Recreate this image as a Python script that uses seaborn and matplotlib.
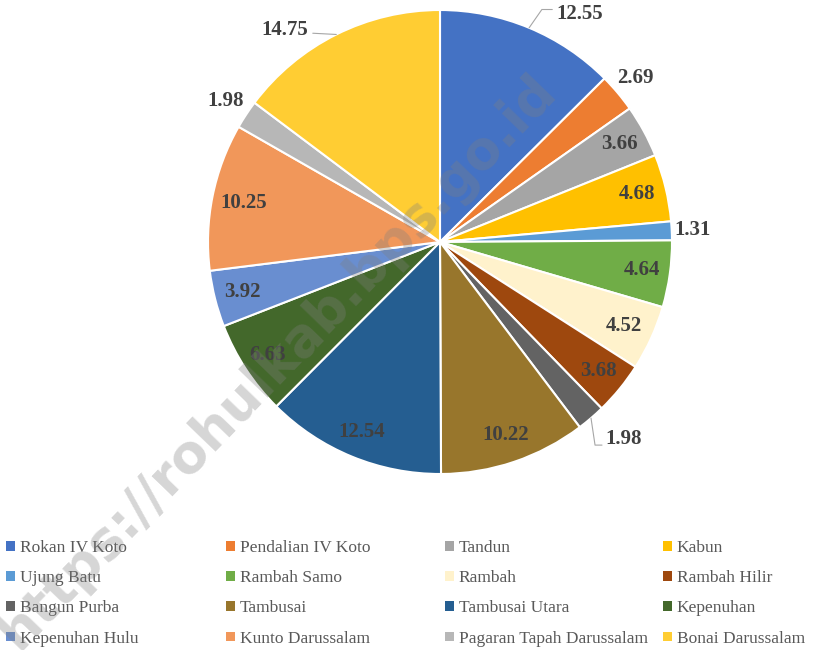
import numpy as np
import matplotlib
matplotlib.use('Agg')
import matplotlib.pyplot as plt
import matplotlib.patches as mpatches
import seaborn as sns

# Data (share per kecamatan, %)
districts = ['Rokan IV Koto', 'Pendalian IV Koto', 'Tandun', 'Kabun',
             'Ujung Batu', 'Rambah Samo', 'Rambah', 'Rambah Hilir',
             'Bangun Purba', 'Tambusai', 'Tambusai Utara', 'Kepenuhan',
             'Kepenuhan Hulu', 'Kunto Darussalam', 'Pagaran Tapah Darussalam',
             'Bonai Darussalam']
shares = [12.55, 2.69, 3.66, 4.68, 1.31, 4.64, 4.52, 3.68,
          1.98, 10.22, 12.54, 6.63, 3.92, 10.25, 1.98, 14.75]
colors = ['#4472C4', '#ED7D31', '#A5A5A5', '#FFC000', '#5B9BD5', '#70AD47',
          '#FFF2CC', '#9E480E', '#636363', '#98762C', '#255E91', '#43682B',
          '#698ED0', '#F1975A', '#B7B7B7', '#FFCD33']

sns.set_style('white')
plt.rcParams['font.family'] = ['Liberation Serif', 'DejaVu Serif']

fig = plt.figure(figsize=(8.16, 6.5), dpi=100)
ax = fig.add_axes([208 / 816, 176 / 650, 464 / 816, 464 / 650])
wedges, _ = ax.pie(shares, colors=colors, startangle=90, counterclock=False,
                   radius=1, wedgeprops=dict(edgecolor='white', linewidth=1.5))
ax.set_xlim(-1, 1)
ax.set_ylim(-1, 1)
ax.set_aspect('equal')
ax.axis('off')

# label placement: radius factor and angle shift for each slice
label_r = [1.153, 1.10, 0.88, 0.875, 1.09, 0.88, 0.87, 0.883,
           1.163, 0.88, 0.884, 0.89, 0.88, 0.865, 1.105, 1.133]
label_shift = [-9, 0, 0, 0, 0, 0, 0, 0, 2.4, 0, 0, 0, 0, 0, 0, 9.6]

for i, w in enumerate(wedges):
    mid = (w.theta1 + w.theta2) / 2
    ang = np.deg2rad(mid + label_shift[i])
    lx, ly = label_r[i] * np.cos(ang), label_r[i] * np.sin(ang)
    ax.text(lx, ly, f'{shares[i]:.2f}', ha='center', va='center',
            fontsize=15, fontweight='bold', color='#404040')
    # leader lines for the labels set further out
    if label_shift[i] != 0:
        ex, ey = np.cos(np.deg2rad(mid)), np.sin(np.deg2rad(mid))
        if ly < 0:
            xs = [ex, lx - 0.125, lx - 0.095]
            ys = [ey, ly - 0.025, ly - 0.025]
        elif lx > 0:
            xs = [ex, ex + 0.055, lx - 0.12]
            ys = [ey, ly + 0.02, ly + 0.02]
        else:
            xs = [ex, lx + 0.12]
            ys = [ey, ly - 0.015]
        ax.plot(xs, ys, color='#A6A6A6', lw=0.8, clip_on=False)

# legend, four evenly spaced columns
col_x = [6, 226, 445, 663]
for c in range(4):
    idx = list(range(c, len(districts), 4))
    handles = [mpatches.Patch(facecolor=colors[k], edgecolor='none') for k in idx]
    fig.legend(handles, [districts[k] for k in idx], loc='upper left',
               bbox_to_anchor=(col_x[c] / 816, 1 - 540 / 650),
               frameon=False, fontsize=12.5, labelcolor='#595959',
               handlelength=0.5, handleheight=0.5, handletextpad=0.3,
               labelspacing=0.82, borderpad=0, borderaxespad=0)

# watermark
fig.text(0.34, 0.443, 'https://rohulkab.bps.go.id', rotation=46,
         ha='center', va='center', fontsize=38, fontweight='bold',
         family='DejaVu Sans', color='#7f7f7f', alpha=0.32, zorder=10)

fig.savefig('out.png', dpi=100)
